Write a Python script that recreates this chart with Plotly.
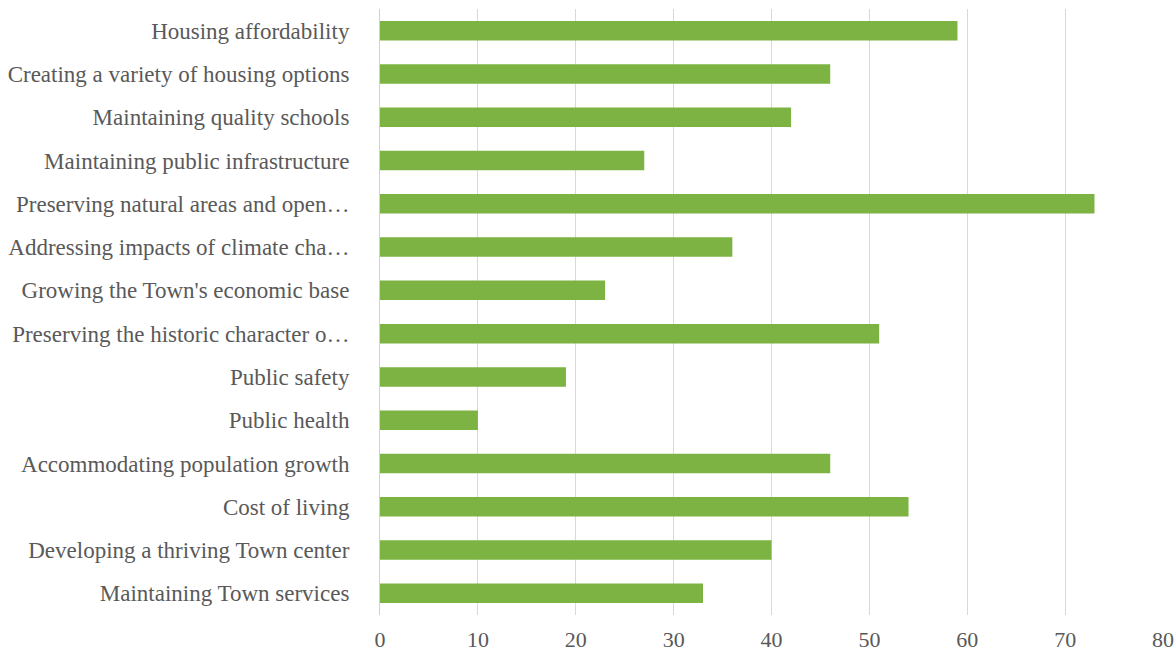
import plotly.graph_objects as go

# Survey priorities (top to bottom as displayed)
categories = [
    "Housing affordability",
    "Creating a variety of housing options",
    "Maintaining quality schools",
    "Maintaining public infrastructure",
    "Preserving natural areas and open…",
    "Addressing impacts of climate cha…",
    "Growing the Town's economic base",
    "Preserving the historic character o…",
    "Public safety",
    "Public health",
    "Accommodating population growth",
    "Cost of living",
    "Developing a thriving Town center",
    "Maintaining Town services",
]
counts = [59, 46, 42, 27, 73, 36, 23, 51, 19, 10, 46, 54, 40, 33]
x_ticks = [0, 10, 20, 30, 40, 50, 60, 70, 80]

fig = go.Figure(
    go.Bar(
        x=counts,
        y=categories,
        orientation="h",
        marker=dict(color="#7cb342", line=dict(width=0)),
    )
)

font_family = "Liberation Serif, Times New Roman, serif"
label_color = "#595959"

fig.update_layout(
    width=1175,
    height=658,
    margin=dict(l=380, r=12, t=9, b=43),
    paper_bgcolor="white",
    plot_bgcolor="white",
    bargap=0.55,
    showlegend=False,
    font=dict(family=font_family, size=23, color=label_color),
)

fig.update_xaxes(
    range=[0, 80],
    tickvals=x_ticks,
    showgrid=True,
    gridcolor="#d9d9d9",
    gridwidth=1,
    zeroline=False,
    showline=False,
    tickfont=dict(family=font_family, size=22, color=label_color),
    ticks="",
    ticklabelstandoff=9,
    automargin=False,
)

fig.update_yaxes(
    categoryorder="array",
    categoryarray=categories,
    autorange="reversed",
    showgrid=False,
    showline=True,
    linecolor="#c9d2e3",
    linewidth=1,
    ticks="",
    ticklabelstandoff=25,
    tickfont=dict(family=font_family, size=23, color=label_color),
    automargin=False,
)

fig.write_html("out.html")
